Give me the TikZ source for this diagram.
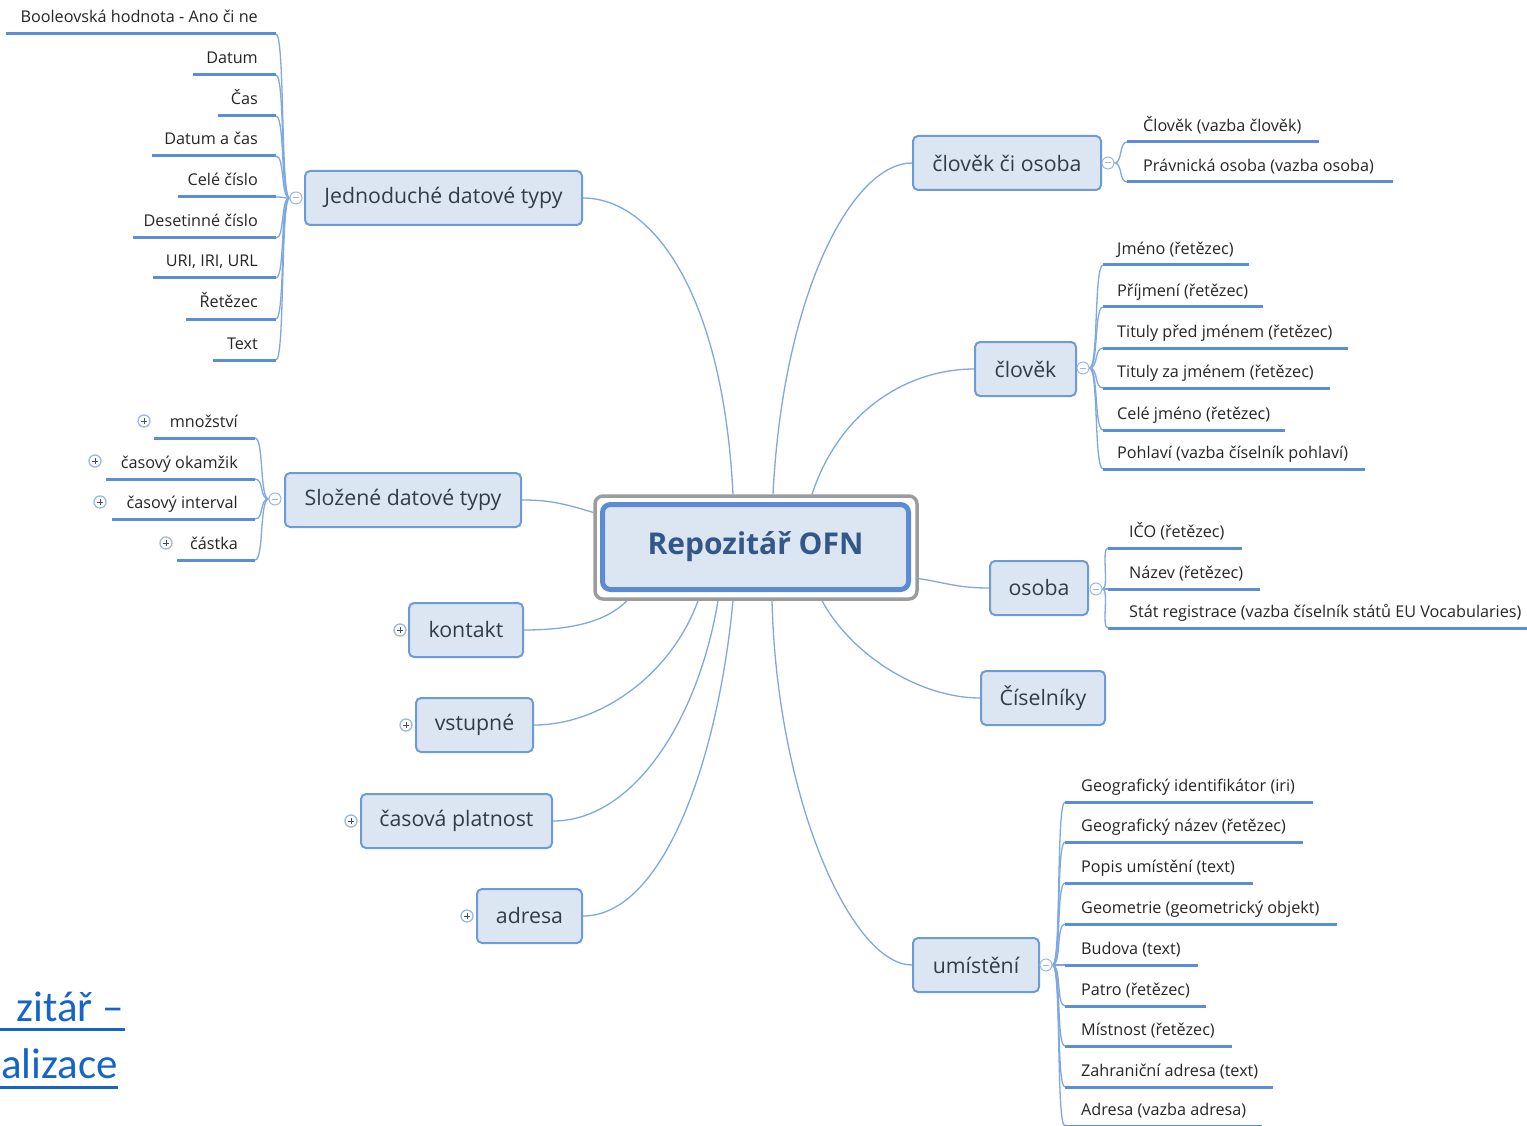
\documentclass[tikz,border=0pt]{standalone}
\usepackage{fontspec}
\setmainfont{Open Sans}
\newfontfamily\linkfont{Carlito}
\usetikzlibrary{calc}
\pgfdeclarelayer{bg}
\pgfdeclarelayer{paper}
\pgfsetlayers{paper,bg,main}
\definecolor{boxfill}{HTML}{DCE6F2}
\definecolor{boxdraw}{HTML}{6D9BD8}
\definecolor{topictext}{HTML}{333B4A}
\definecolor{centertext}{HTML}{34578A}
\definecolor{cborder}{HTML}{5B8CD3}
\definecolor{frameg}{HTML}{9C9C9C}
\definecolor{conncol}{HTML}{7FA8E0}
\definecolor{ulcol}{HTML}{5B8ED6}
\definecolor{leafcol}{HTML}{262626}
\definecolor{markc}{HTML}{9DB8DE}
\definecolor{linkblue}{HTML}{1565C8}
\tikzset{
  topic/.style={draw=boxdraw, line width=2pt, fill=boxfill, rounded corners=5pt, inner sep=0pt,
    minimum height=54pt, font=\fontsize{21.3}{25}\selectfont, text=topictext},
  leaftxt/.style={font=\fontsize{16.2}{19}\selectfont, text=leafcol, inner sep=0pt},
  ulstyle/.style={draw=ulcol, line width=3pt},
  mconn/.style={draw=conncol, line width=1.3pt},
  bconn/.style={draw=conncol, line width=1.3pt},
  minusmark/.style={circle, draw=markc, fill=white, line width=1pt, minimum size=12pt, inner sep=0pt,
    path picture={\draw[markc, line width=1pt] ([xshift=-3pt]path picture bounding box.center) -- ([xshift=3pt]path picture bounding box.center);}},
  plusmark/.style={circle, draw=markc, fill=white, line width=1.3pt, minimum size=12pt, inner sep=0pt,
    path picture={\draw[black!70, line width=0.9pt] ([xshift=-2.6pt]path picture bounding box.center) -- ([xshift=2.6pt]path picture bounding box.center)
      ([yshift=-2.6pt]path picture bounding box.center) -- ([yshift=2.6pt]path picture bounding box.center);}},
  linktxt/.style={font=\linkfont\fontsize{43}{50}\selectfont, text=linkblue, inner sep=0pt},
}
% left leaf: name, xl, xr, y, text right x, text
\newcommand\lleaf[6]{%
  \coordinate (#1-l) at (#2,#4); \coordinate (#1-r) at (#3,#4);
  \draw[ulstyle] (#1-l) -- (#1-r);
  \node[leaftxt, anchor=base east] (#1) at (#5,#4-11) {#6};}
% right leaf: name, xl, xr, y, text left x, text
\newcommand\rleaf[6]{%
  \coordinate (#1-l) at (#2,#4); \coordinate (#1-r) at (#3,#4);
  \draw[ulstyle] (#1-l) -- (#1-r);
  \node[leaftxt, anchor=base west] (#1) at (#5,#4-10.5) {#6};}
\begin{document}
\begin{tikzpicture}[x=1pt,y=-1pt]
\useasboundingbox (0,0) rectangle (1527,1126);
\clip (0,0) rectangle (1527,1126);
\begin{pgfonlayer}{paper}
\fill[white] (0,0) rectangle (1527,1126);
\end{pgfonlayer}

% central node
\node[draw=frameg, line width=3.5pt, fill=white, rounded corners=8pt, minimum width=322pt, minimum height=103pt, inner sep=0pt] (ofnframe) at (756,547.5) {};
\node[draw=cborder, line width=5pt, fill=boxfill, rounded corners=8pt, minimum width=306pt, minimum height=85pt, inner sep=0pt,
  font=\bfseries\fontsize{30}{36}\selectfont, text=centertext] (ofn) at (755.5,547) {Repozitář OFN};

% topics
\node[topic, minimum width=277pt] (jdt) at (443.5,198) {Jednoduché datové typy};
\node[topic, minimum width=236pt] (sdt) at (403,500) {Složené datové typy};
\node[topic, minimum width=114pt] (kon) at (466,630) {kontakt};
\node[topic, minimum width=117pt] (vst) at (474.5,725) {vstupné};
\node[topic, minimum width=191pt] (cpl) at (456.5,821) {časová platnost};
\node[topic, minimum width=105pt] (adr) at (529.5,916) {adresa};
\node[topic, minimum width=188pt] (cco) at (1007,163) {člověk či osoba};
\node[topic, minimum width=101pt] (clo) at (1025.5,369) {člověk};
\node[topic, minimum width=98pt] (oso) at (1039,588) {osoba};
\node[topic, minimum width=124pt] (cis) at (1043,698) {Číselníky};
\node[topic, minimum width=126pt] (umi) at (976,965) {umístění};

% markers
\node[minusmark] (jdtm) at (296,198) {};
\node[minusmark] (sdtm) at (275,499) {};
\node[plusmark] (konm) at (400,630) {};
\node[plusmark] (vstm) at (406,725) {};
\node[plusmark] (cplm) at (351,821) {};
\node[plusmark] (adrm) at (467,916) {};
\node[minusmark] (ccom) at (1108,163) {};
\node[minusmark] (clom) at (1083,368) {};
\node[minusmark] (osom) at (1096,589) {};
\node[minusmark] (umim) at (1046,965) {};

% main connectors
\begin{pgfonlayer}{bg}
\draw[mconn] ([xshift=-23pt]ofnframe.north) .. controls +(-10,-200) and +(70,0) .. (jdt.east);
\draw[mconn] ([xshift=17pt]ofnframe.north) .. controls +(10,-200) and +(-60,0) .. (cco.west);
\draw[mconn] ([xshift=56pt]ofnframe.north) .. controls +(30,-90) and +(-60,0) .. (clo.west);
\draw[mconn] ([yshift=35pt]ofnframe.west) .. controls +(-32,-10) and +(24,0) .. (sdt.east);
\draw[mconn] ([yshift=-31pt]ofnframe.east) .. controls +(30,5) and +(-30,0) .. (oso.west);
\draw[mconn] ([xshift=-129pt]ofnframe.south) .. controls +(-20,20) and +(50,0) .. (kon.east);
\draw[mconn] ([xshift=-58pt]ofnframe.south) .. controls +(-25,70) and +(70,0) .. (vst.east);
\draw[mconn] ([xshift=-38pt]ofnframe.south) .. controls +(-20,120) and +(80,0) .. (cpl.east);
\draw[mconn] ([xshift=-23pt]ofnframe.south) .. controls +(-15,160) and +(80,0) .. (adr.east);
\draw[mconn] ([xshift=16pt]ofnframe.south) .. controls +(5,200) and +(-60,0) .. (umi.west);
\draw[mconn] ([xshift=66pt]ofnframe.south) .. controls +(30,55) and +(-60,0) .. (cis.west);
\end{pgfonlayer}

% Jednoduché datové typy leaves
\lleaf{b1}{6}{276}{34}{258}{Booleovská hodnota - Ano či ne}
\lleaf{b2}{193}{276}{75}{258}{Datum}
\lleaf{b3}{218}{276}{116}{258}{Čas}
\lleaf{b4}{152}{276}{156}{258}{Datum a čas}
\lleaf{b5}{178}{276}{197}{258}{Celé číslo}
\lleaf{b6}{133}{276}{238}{258}{Desetinné číslo}
\lleaf{b7}{153}{276}{278}{258}{URI, IRI, URL}
\lleaf{b8}{186}{276}{319}{258}{Řetězec}
\lleaf{b9}{213}{276}{360}{258}{Text}
\begin{pgfonlayer}{bg}
\foreach \n in {b1,b2,b3,b4,b5,b6,b7,b8,b9}
  \draw[bconn] (jdtm.west) .. controls +(-9,0) and +(9,0) .. (\n-r);
\end{pgfonlayer}

% Složené datové typy leaves
\lleaf{s1}{154}{255}{438}{238}{množství}
\lleaf{s2}{106}{255}{479}{238}{časový okamžik}
\lleaf{s3}{112}{255}{519}{238}{časový interval}
\lleaf{s4}{177}{255}{560}{238}{částka}
\node[plusmark] (s1m) at (144,421) {};
\node[plusmark] (s2m) at (95,461) {};
\node[plusmark] (s3m) at (100,502) {};
\node[plusmark] (s4m) at (166,543) {};
\begin{pgfonlayer}{bg}
\foreach \n in {s1,s2,s3,s4}
  \draw[bconn] (sdtm.west) .. controls +(-9,0) and +(9,0) .. (\n-r);
\end{pgfonlayer}

% člověk či osoba leaves
\rleaf{r1}{1127}{1319}{142}{1143}{Člověk (vazba člověk)}
\rleaf{r2}{1127}{1393}{182}{1143}{Právnická osoba (vazba osoba)}
% člověk leaves
\rleaf{c1}{1103}{1249}{265}{1117}{Jméno (řetězec)}
\rleaf{c2}{1103}{1263}{307}{1117}{Příjmení (řetězec)}
\rleaf{c3}{1103}{1348}{348}{1117}{Tituly před jménem (řetězec)}
\rleaf{c4}{1103}{1330}{388}{1117}{Tituly za jménem (řetězec)}
\rleaf{c5}{1103}{1285}{430}{1117}{Celé jméno (řetězec)}
\rleaf{c6}{1103}{1365}{469}{1117}{Pohlaví (vazba číselník pohlaví)}
% osoba leaves
\rleaf{o1}{1108}{1242}{548}{1129}{IČO (řetězec)}
\rleaf{o2}{1108}{1260}{589}{1129}{Název (řetězec)}
\rleaf{o3}{1108}{1527}{628}{1129}{Stát registrace (vazba číselník států EU Vocabularies)}
% umístění leaves
\rleaf{u1}{1065}{1313}{802}{1081}{Geografický identifikátor (iri)}
\rleaf{u2}{1065}{1303}{842}{1081}{Geografický název (řetězec)}
\rleaf{u3}{1065}{1253}{883}{1081}{Popis umístění (text)}
\rleaf{u4}{1065}{1337}{924}{1081}{Geometrie (geometrický objekt)}
\rleaf{u5}{1065}{1198}{965}{1081}{Budova (text)}
\rleaf{u6}{1065}{1206}{1006}{1081}{Patro (řetězec)}
\rleaf{u7}{1065}{1232}{1046}{1081}{Místnost (řetězec)}
\rleaf{u8}{1065}{1273}{1087}{1081}{Zahraniční adresa (text)}
\rleaf{u9}{1065}{1262}{1126}{1081}{Adresa (vazba adresa)}
\begin{pgfonlayer}{bg}
\foreach \n in {r1,r2}
  \draw[bconn] (ccom.east) .. controls +(8,0) and +(-8,0) .. (\n-l);
\foreach \n in {c1,c2,c3,c4,c5,c6}
  \draw[bconn] (clom.east) .. controls +(9,0) and +(-9,0) .. (\n-l);
\foreach \n in {o1,o2,o3}
  \draw[bconn] (osom.east) .. controls +(7,0) and +(-7,0) .. (\n-l);
\foreach \n in {u1,u2,u3,u4,u5,u6,u7,u8,u9}
  \draw[bconn] (umim.east) .. controls +(9,0) and +(-9,0) .. (\n-l);
\end{pgfonlayer}

% link text bottom left
\node[linktxt, anchor=base east] (lk1) at (124,1021) {zitář –};
\node[linktxt, anchor=base west] (lk2) at (1,1078) {alizace};
\coordinate (lk1a) at (0,1029); \coordinate (lk1b) at (125,1029);
\coordinate (lk2a) at (0,1087); \coordinate (lk2b) at (118,1087);
\draw[linkblue, line width=3pt] (lk1a) -- (lk1b);
\draw[linkblue, line width=3pt] (lk2a) -- (lk2b);
\end{tikzpicture}
\end{document}
